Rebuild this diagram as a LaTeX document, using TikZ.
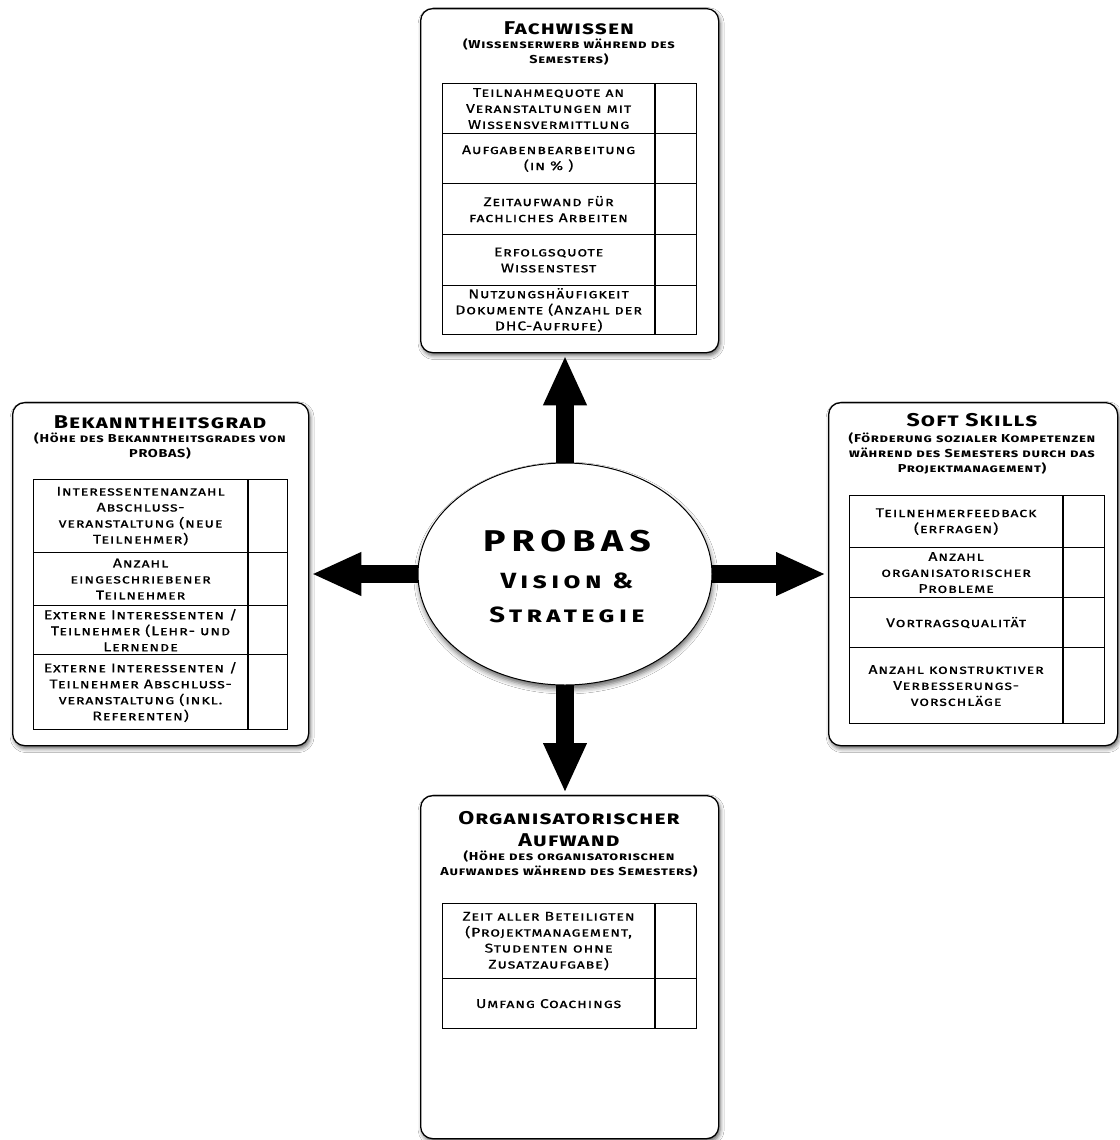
\documentclass[tikz,border=0pt]{standalone}
\usepackage{fontspec}
\setmainfont{Fira Sans}
\newfontfamily\cpf[Letters=SmallCaps,FakeStretch=1.25,LetterSpace=6]{Fira Sans}
\newfontfamily\cpm[Letters=SmallCaps,FakeStretch=1.25,LetterSpace=6,FakeBold=0.35]{Fira Sans}
\newfontfamily\cpw[Letters=SmallCaps,FakeStretch=1.25,LetterSpace=20]{Fira Sans}
\usetikzlibrary{shapes.geometric,shadows.blur,arrows.meta}
\tikzset{
  card/.style={draw=black, line width=1.3pt, rounded corners=12pt, fill=white,
    anchor=north west, inner sep=0pt,
    blur shadow={shadow xshift=1.5pt, shadow yshift=-3pt, shadow blur radius=4pt, shadow opacity=60}},
  ttl/.style={align=center, inner sep=0pt, font=\cpf\bfseries\fontsize{18.5}{22}\selectfont},
  sub/.style={align=center, inner sep=0pt, font=\cpf\bfseries\fontsize{11.5}{15}\selectfont},
  txtcell/.style={draw=black, line width=1.2pt, anchor=north west, align=center, inner sep=0pt,
    font=\cpm\fontsize{12.7}{16}\selectfont},
  chkcell/.style={draw=black, line width=1.2pt, anchor=north west, inner sep=0pt},
  bigarrow/.style={line width=18pt, -{Triangle[width=40pt,length=50pt]}, shorten >=2pt},
  core/.style={ellipse, draw=black, line width=1pt, fill=white, inner sep=0pt,
    minimum width=294pt, minimum height=222pt,
    blur shadow={shadow xshift=1pt, shadow yshift=-4pt, shadow blur radius=5pt, shadow opacity=60}}
}
% #1 name, #2 x, #3 y, #4 text width, #5 check width, #6 height, #7 text
\newcommand\tabrow[7]{%
  \node[txtcell, minimum width=#4pt, minimum height=#6pt] (#1) at (#2,#3) {#7};
  \node[chkcell, minimum width=#5pt, minimum height=#6pt] (#1c) at (#1.north east) {};}
\begin{document}
\begin{tikzpicture}[x=1pt,y=-1pt]
\fill[white] (0,0) rectangle (1119,1140);
\useasboundingbox (0,0) rectangle (1119,1140);

% cards
\node[card, minimum width=298pt, minimum height=344pt] (T) at (420,8) {};
\node[card, minimum width=296pt, minimum height=343pt] (L) at (12,402) {};
\node[card, minimum width=289pt, minimum height=343pt] (R) at (828,402) {};
\node[card, minimum width=298pt, minimum height=343pt] (B) at (420,795) {};

% arrows from the centre of the ellipse
\coordinate (Ec) at (565,574);
\draw[bigarrow] (Ec) -- (Ec |- T.south);
\draw[bigarrow] (Ec) -- (Ec -| L.east);
\draw[bigarrow] (Ec) -- (Ec -| R.west);
\draw[bigarrow] (Ec) -- (Ec |- B.north);

% central ellipse
\node[core] (E) at (Ec) {};
\node[font=\cpw\bfseries\fontsize{30}{34}\selectfont, inner sep=0pt] (Ep) at (567,541) {PROBAS};
\node[align=center, inner sep=0pt, font=\cpw\bfseries\fontsize{22}{34}\selectfont] (Ev) at (567,598) {Vision \&\\Strategie};

% top card: Fachwissen
\node[ttl] (Tt) at (569,28) {Fachwissen};
\node[sub] (Ts) at (569,52) {(Wissenserwerb während des\\Semesters)};
\tabrow{T1}{442}{83}{212}{41}{50}{Teilnahmequote an\\Veranstaltungen mit\\Wissensvermittlung}
\tabrow{T2}{442}{133}{212}{41}{50}{Aufgabenbearbeitung\\(in \% )}
\tabrow{T3}{442}{183}{212}{41}{51}{Zeitaufwand für\\fachliches Arbeiten}
\tabrow{T4}{442}{234}{212}{41}{51}{Erfolgsquote\\Wissenstest}
\tabrow{T5}{442}{285}{212}{41}{49}{Nutzungshäufigkeit\\Dokumente (Anzahl der\\DHC-Aufrufe)}

% left card: Bekanntheitsgrad
\node[ttl] (Lt) at (160,422) {Bekanntheitsgrad};
\node[sub] (Ls) at (160,446) {(Höhe des Bekanntheitsgrades von\\PROBAS)};
\tabrow{L1}{33}{479}{214}{39}{73}{Interessentenanzahl\\Abschluss-\\veranstaltung (neue\\Teilnehmer)}
\tabrow{L2}{33}{552}{214}{39}{53}{Anzahl\\eingeschriebener\\Teilnehmer}
\tabrow{L3}{33}{605}{214}{39}{49}{Externe Interessenten /\\Teilnehmer (Lehr- und\\Lernende}
\tabrow{L4}{33}{654}{214}{39}{75}{Externe Interessenten /\\Teilnehmer Abschluss-\\veranstaltung (inkl.\\Referenten)}

% right card: Soft Skills
\node[ttl] (Rt) at (972,420) {Soft Skills};
\node[sub] (Rs) at (972,453) {(Förderung sozialer Kompetenzen\\während des Semesters durch das\\Projektmanagement)};
\tabrow{R1}{849}{495}{213}{41}{52}{Teilnehmerfeedback\\(erfragen)}
\tabrow{R2}{849}{547}{213}{41}{50}{Anzahl\\organisatorischer\\Probleme}
\tabrow{R3}{849}{597}{213}{41}{50}{Vortragsqualität}
\tabrow{R4}{849}{647}{213}{41}{76}{Anzahl konstruktiver\\Verbesserungs-\\vorschläge}

% bottom card: Organisatorischer Aufwand
\node[ttl] (Bt) at (569,829) {Organisatorischer\\Aufwand};
\node[sub] (Bs) at (569,864) {(Höhe des organisatorischen\\Aufwandes während des Semesters)};
\tabrow{B1}{442}{903}{212}{41}{75}{Zeit aller Beteiligten\\(Projektmanagement,\\Studenten ohne\\Zusatzaufgabe)}
\tabrow{B2}{442}{978}{212}{41}{50}{Umfang Coachings}
\end{tikzpicture}
\end{document}
